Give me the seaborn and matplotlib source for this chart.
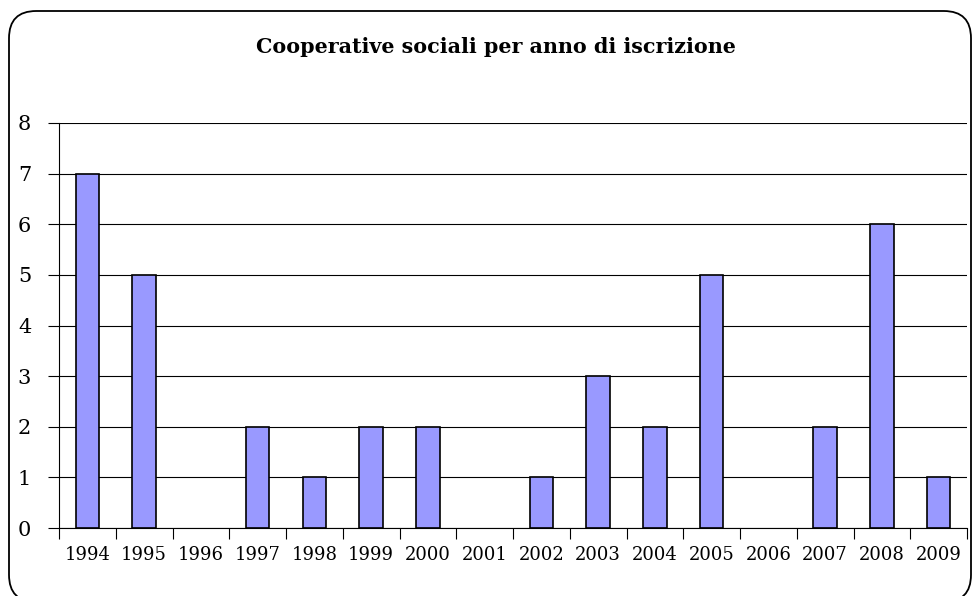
import matplotlib
matplotlib.use("Agg")
import matplotlib.pyplot as plt
import seaborn as sns
import pandas as pd
from matplotlib.patches import FancyBboxPatch

years = ["1994", "1995", "1996", "1997", "1998", "1999", "2000", "2001",
         "2002", "2003", "2004", "2005", "2006", "2007", "2008", "2009"]
counts = [7, 5, 0, 2, 1, 2, 2, 0, 1, 3, 2, 5, 0, 2, 6, 1]
title = "Cooperative sociali per anno di iscrizione"

df = pd.DataFrame({"anno": years, "n": counts})

sns.set_theme(style="white")
plt.rcParams["font.family"] = ["DejaVu Serif"]
plt.rcParams["text.color"] = "black"
plt.rcParams["xtick.color"] = "black"
plt.rcParams["ytick.color"] = "black"

W, H = 973, 596
fig = plt.figure(figsize=(W / 100, H / 100), dpi=100)
fig.patch.set_facecolor("white")

# rounded frame
frame = FancyBboxPatch((9 / W, -6 / H), (971 - 9) / W, (585 + 6) / H,
                       boxstyle="round,pad=0,rounding_size=0.028",
                       transform=fig.transFigure, facecolor="none",
                       edgecolor="black", linewidth=1.3, mutation_aspect=W / H)
fig.patches.append(frame)

ax = fig.add_axes([59 / W, 1 - 528 / H, (967 - 59) / W, (528 - 123) / H])
sns.barplot(data=df, x="anno", y="n", ax=ax, color="#9999FF", saturation=1,
            width=0.41, edgecolor="black", linewidth=1.2)
for p in ax.patches:
    if p.get_height() == 0:
        p.set_linewidth(0)

ax.set_ylim(0, 8)
ax.set_xlim(-0.5, len(years) - 0.5)
ax.set_yticks(range(0, 9))
ax.set_yticklabels([str(i) for i in range(0, 9)], fontsize=15)
ax.yaxis.grid(True, color="black", linewidth=0.8)
ax.set_axisbelow(True)
ax.tick_params(axis="y", length=8, width=0.8, color="black", pad=12, left=True)

# x: labels at centres, tick marks at boundaries
ax.set_xticks(range(len(years)))
ax.set_xticklabels(years, fontsize=13)
ax.tick_params(axis="x", which="major", length=0, pad=13)
ax.set_xticks([i - 0.5 for i in range(len(years) + 1)], minor=True)
ax.tick_params(axis="x", which="minor", length=8, width=0.8, color="black",
               bottom=True, direction="out")

for s in ["top", "right"]:
    ax.spines[s].set_visible(False)
for s in ["left", "bottom"]:
    ax.spines[s].set_color("black")
    ax.spines[s].set_linewidth(0.8)

ax.set_xlabel("")
ax.set_ylabel("")

fig.text(496 / W, 1 - 47 / H, title, ha="center", va="center",
         fontsize=14.9, fontweight="bold")

fig.savefig("out.png", dpi=100)
